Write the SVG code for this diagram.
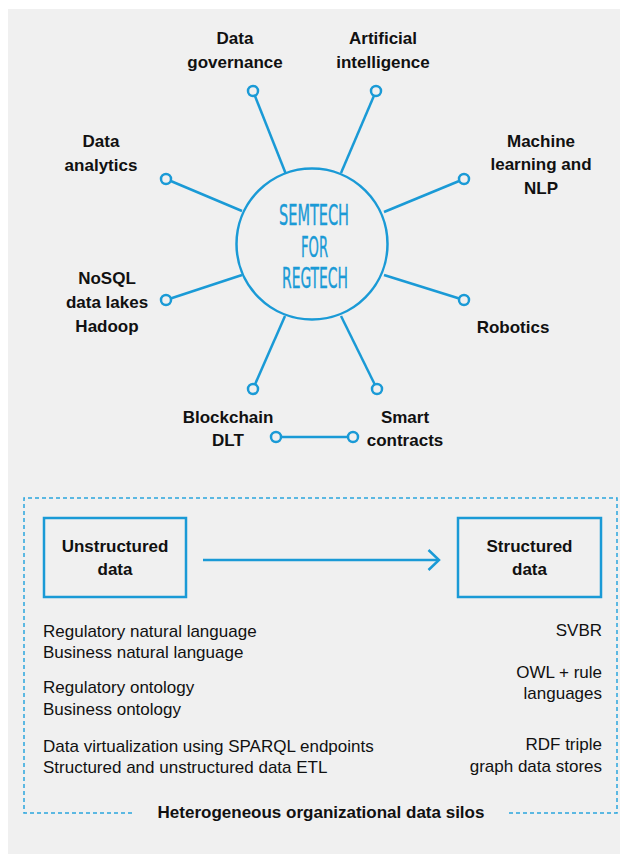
<svg xmlns="http://www.w3.org/2000/svg" width="620" height="854" viewBox="0 0 620 854">
<style>
.lbl{font-family:"Liberation Sans",Arial,sans-serif;font-weight:bold;font-size:17px;fill:#111;text-anchor:middle}
.txt{font-family:"Liberation Sans",Arial,sans-serif;font-size:17px;fill:#111}
.r{text-anchor:end}
.con{stroke:#1a9ad6;stroke-width:2.5;fill:none}
.dot{stroke:#1a9ad6;stroke-width:2.5;fill:#f0f0f0}
.sem{font-family:"DejaVu Sans",sans-serif;font-stretch:condensed;font-size:29px;fill:#1a9ad6;stroke:#1a9ad6;stroke-width:0.4;text-anchor:middle}
.box{stroke:#1a9ad6;stroke-width:2.5;fill:none}
.dash{stroke:#2aa5dd;stroke-width:1.5;stroke-dasharray:4 3;fill:none}
</style>
<rect x="8" y="9" width="612" height="845" fill="#f0f0f0"/>

<g id="connectors">
<line class="con" x1="253" y1="91" x2="285.5" y2="173"/>
<line class="con" x1="376" y1="91" x2="341" y2="173"/>
<line class="con" x1="166" y1="179" x2="242" y2="211"/>
<line class="con" x1="464" y1="179" x2="384" y2="212"/>
<line class="con" x1="166" y1="300" x2="242" y2="275"/>
<line class="con" x1="464" y1="300" x2="384" y2="275"/>
<line class="con" x1="253" y1="389" x2="285" y2="316"/>
<line class="con" x1="377" y1="389" x2="341" y2="316"/>
<line class="con" x1="276" y1="437" x2="353" y2="437"/>
<line class="con" x1="203" y1="560" x2="438" y2="560"/>
<path class="con" d="M428.5 550 L439 560 L428.5 570"/>
</g>

<g id="hub">
<circle cx="312" cy="244" r="75.5" fill="#f0f0f0" stroke="#1a9ad6" stroke-width="2.5"/>
<text class="sem" x="314" y="225" textLength="70" lengthAdjust="spacingAndGlyphs">SEMTECH</text>
<text class="sem" x="314.5" y="257" textLength="27" lengthAdjust="spacingAndGlyphs">FOR</text>
<text class="sem" x="315" y="288" textLength="66" lengthAdjust="spacingAndGlyphs">REGTECH</text>
</g>

<g id="data-governance">
<circle class="dot" cx="253" cy="91" r="5"/>
<text class="lbl" x="235" y="44">Data</text>
<text class="lbl" x="235" y="68">governance</text>
</g>
<g id="artificial-intelligence">
<circle class="dot" cx="376" cy="91" r="5"/>
<text class="lbl" x="383" y="44">Artificial</text>
<text class="lbl" x="383" y="68">intelligence</text>
</g>
<g id="data-analytics">
<circle class="dot" cx="166" cy="179" r="5"/>
<text class="lbl" x="101" y="147">Data</text>
<text class="lbl" x="101" y="171">analytics</text>
</g>
<g id="machine-learning">
<circle class="dot" cx="464" cy="179" r="5"/>
<text class="lbl" x="541" y="147">Machine</text>
<text class="lbl" x="541" y="170">learning and</text>
<text class="lbl" x="541" y="194">NLP</text>
</g>
<g id="nosql">
<circle class="dot" cx="166" cy="300" r="5"/>
<text class="lbl" x="107" y="284">NoSQL</text>
<text class="lbl" x="107" y="308">data lakes</text>
<text class="lbl" x="107" y="332">Hadoop</text>
</g>
<g id="robotics">
<circle class="dot" cx="464" cy="300" r="5"/>
<text class="lbl" x="513" y="333">Robotics</text>
</g>
<g id="blockchain">
<circle class="dot" cx="253" cy="389" r="5"/>
<circle class="dot" cx="276" cy="437" r="5"/>
<text class="lbl" x="228" y="423">Blockchain</text>
<text class="lbl" x="228" y="446">DLT</text>
</g>
<g id="smart-contracts">
<circle class="dot" cx="377" cy="389" r="5"/>
<circle class="dot" cx="353" cy="437" r="5"/>
<text class="lbl" x="405" y="423">Smart</text>
<text class="lbl" x="405" y="446">contracts</text>
</g>

<g id="silos">
<path class="dash" d="M132 813 H24 V498 H617 V813 H508"/>
<text class="lbl" x="321" y="818">Heterogeneous organizational data silos</text>
</g>

<g id="unstructured">
<rect class="box" x="44" y="518" width="142" height="79"/>
<text class="lbl" x="115" y="552">Unstructured</text>
<text class="lbl" x="115" y="575">data</text>
</g>
<g id="structured">
<rect class="box" x="458" y="518" width="143" height="79"/>
<text class="lbl" x="529.5" y="552">Structured</text>
<text class="lbl" x="529.5" y="575">data</text>
</g>

<g id="left-notes">
<text class="txt" x="43" y="637">Regulatory natural language</text>
<text class="txt" x="43" y="658">Business natural language</text>
<text class="txt" x="43" y="693">Regulatory ontology</text>
<text class="txt" x="43" y="715">Business ontology</text>
<text class="txt" x="43" y="752">Data virtualization using SPARQL endpoints</text>
<text class="txt" x="43" y="773">Structured and unstructured data ETL</text>
</g>
<g id="right-notes">
<text class="txt r" x="602" y="636">SVBR</text>
<text class="txt r" x="602" y="678">OWL + rule</text>
<text class="txt r" x="602" y="699">languages</text>
<text class="txt r" x="602" y="750">RDF triple</text>
<text class="txt r" x="602" y="772">graph data stores</text>
</g>
</svg>
